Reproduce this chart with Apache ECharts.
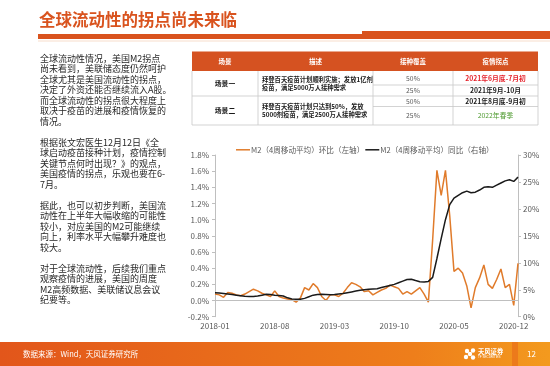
<!DOCTYPE html>
<html><head><meta charset="utf-8">
<script src="https://cdn.jsdelivr.net/npm/echarts@6/dist/echarts.min.js"></script>
<style>html,body{margin:0;padding:0;background:#fff}#c{width:550px;height:366px}</style>
</head><body><div id="c"></div>
<script>
// ---------------- data ----------------
const titleText = '全球流动性的拐点尚未来临';
const paragraphs = [
  ['全球流动性情况，美国M2拐点','尚未看到，美联储态度仍然呵护','全球尤其是美国流动性的拐点，','决定了外资还能否继续流入A股。','而全球流动性的拐点很大程度上','取决于疫苗的进展和疫情恢复的','情况。'],
  ['根据张文宏医生12月12日《全','球启动疫苗接种计划，疫情控制','关键节点何时出现？》的观点，','美国疫情的拐点，乐观也要在6-','7月。'],
  ['据此，也可以初步判断，美国流','动性在上半年大幅收缩的可能性','较小，对应美国的M2可能继续','向上，利率水平大幅攀升难度也','较大。'],
  ['对于全球流动性，后续我们重点','观察疫情的进展，美国的周度','M2高频数据、美联储议息会议','纪要等。']
];
const tableHeader = ['场景','描述','接种覆盖','疫情拐点'];
const scenes = ['场景一','场景二'];
const descriptions = [
  ['拜登百天疫苗计划顺利实施；发放1亿剂','疫苗，满足5000万人接种需求'],
  ['拜登百天疫苗计划只达到50%，发放','5000剂疫苗，满足2500万人接种需求']
];
const coverage = ['50%','25%','50%','25%'];
const turningPoints = ['2021年6月底-7月初','2021年9月-10月','2021年8月底-9月初','2022年春季'];
const sourceText = '数据来源：Wind，天风证券研究所';
const pageNo = '12';

const legendNames = ['M2（4周移动平均）环比（左轴）','M2（4周移动平均）同比（右轴）'];
const months = ['2018-01','2018-02','2018-03','2018-04','2018-05','2018-06','2018-07','2018-08','2018-09','2018-10','2018-11','2018-12',
  '2019-01','2019-02','2019-03','2019-04','2019-05','2019-06','2019-07','2019-08','2019-09','2019-10','2019-11','2019-12',
  '2020-01','2020-02','2020-03','2020-04','2020-05','2020-06','2020-07','2020-08','2020-09','2020-10','2020-11','2020-12'];
const halfMonthDays = ['01','16'];
const xTickLabels = ['2018-01','2018-08','2019-03','2019-10','2020-05','2020-12'];
// M2 4-week MA, week-over-week change (%), half-monthly readings
const momValues = [0.08,0.07,0.04,0.10,0.09,0.07,0.06,0.08,0.11,0.14,
  0.12,0.09,0.07,0.05,0.12,0.05,0.03,0.02,0.01,-0.02,
  0.03,0.16,0.13,0.21,0.16,0.05,0.00,0.07,0.07,0.05,
  0.09,0.16,0.22,0.20,0.17,0.11,0.12,0.07,0.10,0.13,
  0.15,0.19,0.17,0.15,0.08,0.11,0.08,0.12,0.16,0.08,
  -0.02,0.75,1.61,1.30,1.61,1.05,0.36,0.40,0.34,0.18,
  -0.09,0.16,0.28,0.44,0.20,0.15,0.26,0.39,0.16,0.20,
  -0.06,0.46];
// M2 4-week MA, year-over-year (%)
const yoyValues = [4.45,4.4,4.3,4.2,4.1,4.0,3.9,3.8,3.75,3.75,
  3.85,4.0,4.15,4.1,4.0,3.95,3.85,3.5,3.3,3.25,
  3.25,3.4,3.7,4.0,4.1,4.15,4.1,4.05,4.1,4.2,
  4.3,4.45,4.6,4.75,4.9,5.0,5.1,5.15,5.2,5.4,
  5.6,5.8,6.0,6.3,6.6,6.9,6.95,6.7,6.5,6.45,
  6.55,7.3,10.8,14.5,18.0,20.8,22.0,22.5,23.0,23.3,
  23.0,23.1,23.5,24.0,24.1,24.0,24.4,24.8,25.2,25.4,
  25.1,25.9];

// ---------------- build ----------------
const categories = [];
months.forEach(m => halfMonthDays.forEach(d => categories.push(m + '-' + d)));

const CJK = '"Noto Sans CJK SC", "Noto Sans", sans-serif';
const ORANGE = '#E07B2B';
const graphic = [];

// title + underline
graphic.push({type:'text', x:39, y:20, style:{text:titleText, font:'bold 16.5px ' + CJK, fill:'#D9531E', verticalAlign:'middle'}});
graphic.push({type:'rect', shape:{x:38, y:34, width:325, height:5}, style:{fill:'#D9531E'}});
graphic.push({type:'rect', shape:{x:362, y:31, width:188, height:8}, style:{fill:'#D9531E'}});
graphic.push({type:'rect', shape:{x:38, y:40.5, width:512, height:1}, style:{fill:'#F8DDCB'}});

// left paragraphs
const allLines = [];
paragraphs.forEach((p, k) => { if (k) allLines.push(''); p.forEach(l => allLines.push(l)); });
graphic.push({type:'text', x:40, y:53, style:{text:allLines.join('\n'), font:'9px ' + CJK, fill:'#262626', lineHeight:10.5, verticalAlign:'top'}});

// table
const colX = [192, 258, 373, 453, 538];
const rowY = [51.5, 71, 85, 96, 106.5, 125];
graphic.push({type:'rect', shape:{x:colX[0], y:rowY[0], width:colX[4]-colX[0], height:rowY[1]-rowY[0]}, style:{fill:'#D55221'}});
tableHeader.forEach((h, k) => {
  graphic.push({type:'text', x:(colX[k]+colX[k+1])/2, y:(rowY[0]+rowY[1])/2, style:{text:h, font:'bold 6.5px ' + CJK, fill:'#fff', align:'center', verticalAlign:'middle'}});
});
const lineStyle = {stroke:'#C8C8C8', lineWidth:0.8};
[[colX[0], rowY[3], colX[4], rowY[3]], [colX[0], rowY[5], colX[4], rowY[5]], [colX[2], rowY[2], colX[4], rowY[2]], [colX[2], rowY[4], colX[4], rowY[4]]]
  .forEach(s => graphic.push({type:'line', shape:{x1:s[0], y1:s[1], x2:s[2], y2:s[3]}, style:lineStyle}));
colX.forEach(x => graphic.push({type:'line', shape:{x1:x, y1:rowY[1], x2:x, y2:rowY[5]}, style:lineStyle}));
scenes.forEach((s, k) => {
  const yc = (rowY[1 + 2*k] + rowY[3 + 2*k]) / 2;
  graphic.push({type:'text', x:(colX[0]+colX[1])/2, y:yc, style:{text:s, font:'bold 6.8px ' + CJK, fill:'#1a1a1a', align:'center', verticalAlign:'middle'}});
  graphic.push({type:'text', x:colX[1]+4, y:yc, style:{text:descriptions[k].join('\n'), font:'bold 6.3px ' + CJK, fill:'#1a1a1a', lineHeight:8, verticalAlign:'middle'}});
});
const tpStyles = [['#E5232C','bold'],['#1a1a1a','bold'],['#1a1a1a','bold'],['#4E9A2F','normal']];
coverage.forEach((c, k) => {
  const yc = (rowY[1+k] + rowY[2+k]) / 2;
  graphic.push({type:'text', x:(colX[2]+colX[3])/2, y:yc, style:{text:c, font:'6.8px ' + CJK, fill:'#595959', align:'center', verticalAlign:'middle'}});
  graphic.push({type:'text', x:(colX[3]+colX[4])/2, y:yc, style:{text:turningPoints[k], font:tpStyles[k][1] + ' 6.8px ' + CJK, fill:tpStyles[k][0], align:'center', verticalAlign:'middle'}});
});

// footer
graphic.push({type:'rect', shape:{x:0, y:342, width:550, height:24}, style:{fill:new echarts.graphic.LinearGradient(0,0,1,0,[{offset:0,color:'#E2561B'},{offset:0.75,color:'#EE7E1B'},{offset:1,color:'#F39A1E'}])}});
graphic.push({type:'rect', shape:{x:512, y:342, width:6, height:24}, style:{fill:'#EC7A1B'}});
graphic.push({type:'text', x:23, y:354, style:{text:sourceText, font:'7.5px ' + CJK, fill:'#fff', verticalAlign:'middle'}});
graphic.push({type:'text', x:527, y:354, style:{text:pageNo, font:'8px ' + CJK, fill:'#fff', verticalAlign:'middle'}});
[[467,351],[473,350.5],[466,357],[473,357.5],[470,354]].forEach(p => graphic.push({type:'circle', shape:{cx:p[0], cy:p[1], r:2.2}, style:{fill:'#fff'}}));
graphic.push({type:'text', x:478, y:352, style:{text:'天风证券', font:'bold 6.3px ' + CJK, fill:'#fff', verticalAlign:'middle'}});
graphic.push({type:'text', x:478, y:357.5, style:{text:'TF SECURITIES', font:'3px sans-serif', fill:'#fff', verticalAlign:'middle'}});

const chart = echarts.init(document.getElementById('c'), null, {renderer:'canvas'});
chart.setOption({
  animation:false,
  backgroundColor:'#fff',
  textStyle:{fontFamily:CJK},
  graphic: graphic,
  legend:{
    data: legendNames, left:231, top:141, icon:'rect', itemWidth:14, itemHeight:1.5, itemGap:1,
    textStyle:{fontSize:7.6, color:'#595959', fontFamily:CJK, padding:[0,0,0,-4]}
  },
  grid:{left:215, right:32, top:155, bottom:49.3, containLabel:false},
  xAxis:{
    type:'category', data:categories, boundaryGap:false,
    axisLine:{show:false, onZero:false}, axisTick:{show:false}, splitLine:{show:false},
    axisLabel:{
      interval:(idx, v) => v.endsWith('-01') && xTickLabels.includes(v.slice(0,7)),
      formatter:v => v.slice(0,7), fontSize:8, color:'#595959', margin:5, fontFamily:CJK
    }
  },
  yAxis:[
    {type:'value', min:-0.2, max:1.8, interval:0.2, position:'left',
     axisLine:{show:true, lineStyle:{color:'#BFBFBF'}}, axisTick:{show:true, length:3, lineStyle:{color:'#BFBFBF'}},
     splitLine:{show:false},
     axisLabel:{formatter:v => v.toFixed(1) + '%', fontSize:8, color:'#595959', margin:6, fontFamily:CJK}},
    {type:'value', min:0, max:30, interval:5, position:'right',
     axisLine:{show:true, lineStyle:{color:'#BFBFBF'}}, axisTick:{show:true, length:3, lineStyle:{color:'#BFBFBF'}},
     splitLine:{show:false},
     axisLabel:{formatter:v => v + '%', fontSize:8, color:'#595959', margin:5, fontFamily:CJK}}
  ],
  series:[
    {name:legendNames[0], type:'line', yAxisIndex:0, data:momValues, symbol:'none', showSymbol:false,
     lineStyle:{color:ORANGE, width:1.5}, itemStyle:{color:ORANGE},
     markLine:{silent:true, symbol:'none', label:{show:false}, lineStyle:{color:'#BFBFBF', width:1, type:'solid'}, data:[{yAxis:0}]}},
    {name:legendNames[1], type:'line', yAxisIndex:1, data:yoyValues, symbol:'none', showSymbol:false,
     lineStyle:{color:'#1A1A1A', width:1.5}, itemStyle:{color:'#1A1A1A'}}
  ]
});
</script></body></html>
